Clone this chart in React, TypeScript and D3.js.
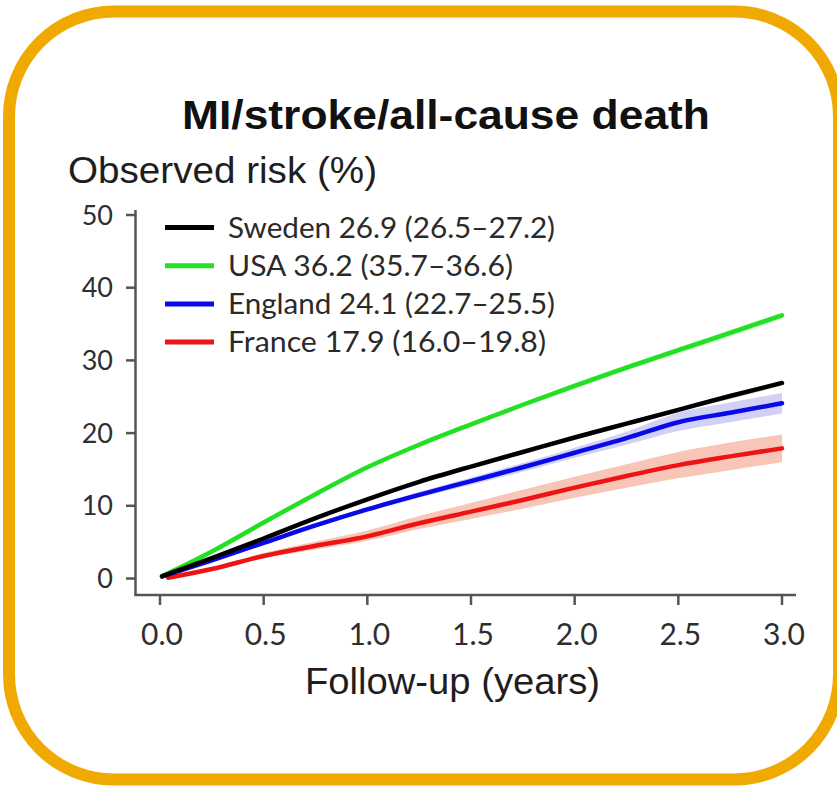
import React from "react";
import * as d3 from "d3";

// Follow-up time points (years)
const years = [0.01, 0.25, 0.5, 0.75, 1.0, 1.25, 1.5, 1.75, 2.0, 2.25, 2.5, 2.75, 3.0];

// Observed cumulative risk (%) per country with 95% CI bounds
const swedenRisk = [0.3, 2.8, 5.5, 8.3, 10.9, 13.3, 15.4, 17.4, 19.4, 21.3, 23.2, 25.1, 26.9];
const swedenLow = [0.3, 2.7, 5.4, 8.2, 10.8, 13.1, 15.2, 17.2, 19.1, 21.0, 22.9, 24.7, 26.5];
const swedenHigh = [0.3, 2.9, 5.6, 8.4, 11.0, 13.5, 15.6, 17.6, 19.7, 21.6, 23.5, 25.4, 27.2];

const usaRisk = [0.3, 3.7, 7.7, 11.6, 15.3, 18.4, 21.2, 23.9, 26.5, 29.0, 31.4, 33.8, 36.2];
const usaLow = [0.3, 3.6, 7.6, 11.4, 15.1, 18.1, 20.9, 23.6, 26.1, 28.6, 30.9, 33.3, 35.7];
const usaHigh = [0.3, 3.8, 7.8, 11.8, 15.5, 18.7, 21.5, 24.2, 26.9, 29.4, 31.8, 34.2, 36.6];

const englandRisk = [0.3, 2.5, 4.9, 7.3, 9.5, 11.5, 13.4, 15.3, 17.3, 19.3, 21.5, 22.8, 24.1];
const englandLow = [0.3, 2.4, 4.7, 7.1, 9.2, 11.1, 12.9, 14.7, 16.6, 18.4, 20.3, 21.5, 22.7];
const englandHigh = [0.3, 2.6, 5.1, 7.5, 9.8, 11.9, 13.9, 15.9, 18.0, 20.2, 22.8, 24.2, 25.5];

const franceYears = [0.04, 0.25, 0.5, 0.75, 1.0, 1.25, 1.5, 1.75, 2.0, 2.25, 2.5, 2.75, 3.0];
const franceRisk = [0.1, 1.3, 3.1, 4.5, 5.8, 7.6, 9.2, 10.8, 12.5, 14.1, 15.6, 16.8, 17.9];
const franceLow = [0.1, 1.1, 2.8, 4.0, 5.2, 6.8, 8.2, 9.6, 11.1, 12.5, 13.8, 14.9, 16.0];
const franceHigh = [0.1, 1.5, 3.5, 5.1, 6.6, 8.6, 10.4, 12.2, 14.0, 15.7, 17.4, 18.7, 19.8];

const legendLabels = [
  "Sweden 26.9 (26.5–27.2)",
  "USA 36.2 (35.7–36.6)",
  "England 24.1 (22.7–25.5)",
  "France 17.9 (16.0–19.8)",
];

const yTicks = [0, 10, 20, 30, 40, 50];
const xTicks = [0, 0.5, 1.0, 1.5, 2.0, 2.5, 3.0];

type Series = {
  name: string;
  t: number[];
  v: number[];
  lo: number[];
  hi: number[];
  color: string;
  band: string;
  bandOpacity: number;
  legendWidth: number;
};

const series: Series[] = [
  { name: "France", t: franceYears, v: franceRisk, lo: franceLow, hi: franceHigh, color: "#ee1414", band: "#f08060", bandOpacity: 0.45, legendWidth: 318 },
  { name: "England", t: years, v: englandRisk, lo: englandLow, hi: englandHigh, color: "#0a0ae8", band: "#9a9ae8", bandOpacity: 0.45, legendWidth: 327 },
  { name: "USA", t: years, v: usaRisk, lo: usaLow, hi: usaHigh, color: "#22e022", band: "#a0eea0", bandOpacity: 0.5, legendWidth: 285 },
  { name: "Sweden", t: years, v: swedenRisk, lo: swedenLow, hi: swedenHigh, color: "#000000", band: "#aaaaaa", bandOpacity: 0.5, legendWidth: 327 },
];

const legendOrder = ["Sweden", "USA", "England", "France"];

const W = 837;
const H = 786;

const x = d3.scaleLinear().domain([0, 3]).range([160, 782]);
const y = d3.scaleLinear().domain([0, 50]).range([578.5, 215]);

const arial = "'Liberation Sans', Arial, sans-serif";
const calibriLike = "Lato, 'Open Sans', sans-serif";

export default function App() {
  const line = d3
    .line<[number, number]>()
    .x((d) => x(d[0]))
    .y((d) => y(d[1]))
    .curve(d3.curveMonotoneX);

  const area = d3
    .area<[number, number, number]>()
    .x((d) => x(d[0]))
    .y0((d) => y(d[1]))
    .y1((d) => y(d[2]))
    .curve(d3.curveMonotoneX);

  const axisColor = "#555555";
  const tickText = "#2e2e2e";

  return (
    <svg
      width={W}
      height={H}
      viewBox={`0 0 ${W} ${H}`}
      style={{ position: "absolute", left: 0, top: 0, background: "#ffffff" }}
    >
      <rect x={0} y={0} width={W} height={H} fill="#ffffff" />
      {/* Rounded orange frame */}
      <rect x={9} y={11.5} width={830} height={768} rx={105} ry={105} fill="#ffffff" stroke="#efa900" strokeWidth={12} />

      {/* Title and axis titles */}
      <text x={182} y={129} fontFamily={arial} fontWeight="bold" fontSize={41} fill="#111" textLength={528} lengthAdjust="spacingAndGlyphs">
        MI/stroke/all-cause death
      </text>
      <text x={68} y={183} fontFamily={arial} fontSize={37} fill="#1e1e1e" textLength={309} lengthAdjust="spacingAndGlyphs">
        Observed risk (%)
      </text>
      <text x={305} y={694} fontFamily={arial} fontSize={37} fill="#1e1e1e" textLength={295} lengthAdjust="spacingAndGlyphs">
        Follow-up (years)
      </text>

      {/* Confidence bands */}
      {series.map((s) => (
        <path
          key={`band-${s.name}`}
          d={area(s.t.map((t, i) => [t, s.lo[i], s.hi[i]] as [number, number, number])) || ""}
          fill={s.band}
          fillOpacity={s.bandOpacity}
          stroke="none"
        />
      ))}

      {/* Risk curves */}
      {series.map((s) => (
        <path
          key={`line-${s.name}`}
          d={line(s.t.map((t, i) => [t, s.v[i]] as [number, number])) || ""}
          fill="none"
          stroke={s.color}
          strokeWidth={4.5}
          strokeLinecap="round"
          strokeLinejoin="round"
        />
      ))}

      {/* Y axis */}
      <line x1={135.5} y1={210} x2={135.5} y2={595} stroke={axisColor} strokeWidth={2.5} />
      {yTicks.map((v) => (
        <g key={`yt-${v}`}>
          <line x1={126} x2={135.5} y1={y(v)} y2={y(v)} stroke={axisColor} strokeWidth={2.5} />
          <text x={113} y={y(v) + 9.5} textAnchor="end" fontFamily={calibriLike} fontSize={27} fill={tickText}>
            {v}
          </text>
        </g>
      ))}

      {/* X axis */}
      <line x1={134.3} y1={595} x2={796} y2={595} stroke={axisColor} strokeWidth={2.5} />
      {xTicks.map((t) => (
        <g key={`xt-${t}`}>
          <line x1={x(t)} x2={x(t)} y1={595} y2={605} stroke={axisColor} strokeWidth={2.5} />
          <text x={x(t) + 2} y={645} textAnchor="middle" fontFamily={calibriLike} fontSize={30} fill={tickText}>
            {t.toFixed(1)}
          </text>
        </g>
      ))}

      {/* Legend */}
      {legendOrder.map((name, i) => {
        const s = series.find((d) => d.name === name)!;
        const ly = 227.5 + i * 38.2;
        return (
          <g key={`lg-${name}`}>
            <line x1={165} x2={214} y1={ly} y2={ly} stroke={s.color} strokeWidth={5} />
            <text x={228} y={ly + 10} fontFamily={calibriLike} fontSize={29} fill="#2a2a2a" textLength={s.legendWidth} lengthAdjust="spacingAndGlyphs">
              {legendLabels[i]}
            </text>
          </g>
        );
      })}
    </svg>
  );
}
